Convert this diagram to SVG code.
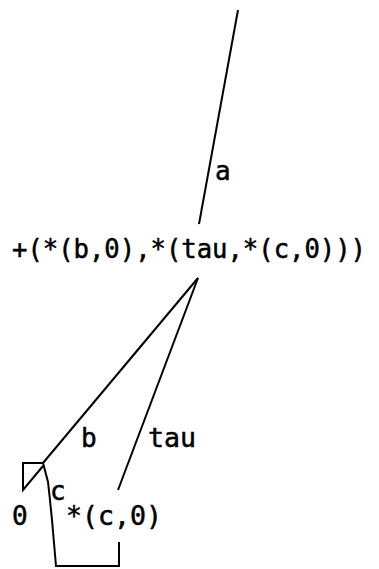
<svg xmlns="http://www.w3.org/2000/svg" width="379" height="569" viewBox="0 0 379 569">
<style>
.t{font-family:"DejaVu Sans Mono","Liberation Mono",monospace;font-size:26px;fill:#000;stroke:#000;stroke-width:0.5}
.e{fill:none;stroke:#000;stroke-width:2;stroke-linejoin:miter}
</style>
<rect width="379" height="569" fill="#fff"/>
<g id="connectors">
<line class="e" x1="238" y1="10" x2="199" y2="224"/>
<line class="e" x1="198" y1="278" x2="43" y2="463"/>
<line class="e" x1="198" y1="278" x2="118" y2="490"/>
<path class="e" d="M43,463 L48,482 L50,500 L52,520 L56,566 L119,566 L119,542"/>
<path class="e" d="M43,463 L23,463 L23,490 L43,466"/>
</g>
<g id="edge-labels">
<text class="t" x="215" y="180">a</text>
<text class="t" x="81" y="447">b</text>
<text class="t" x="148" y="447" textLength="48" lengthAdjust="spacingAndGlyphs">tau</text>
<text class="t" x="50" y="500">c</text>
</g>
<g id="root">
<text class="t" x="12" y="258" textLength="354" lengthAdjust="spacingAndGlyphs">+(*(b,0),*(tau,*(c,0)))</text>
</g>
<g id="n0">
<text class="t" x="12" y="525">0</text>
</g>
<g id="nmul">
<text class="t" x="66" y="525" textLength="96" lengthAdjust="spacingAndGlyphs">*(c,0)</text>
</g>
</svg>
